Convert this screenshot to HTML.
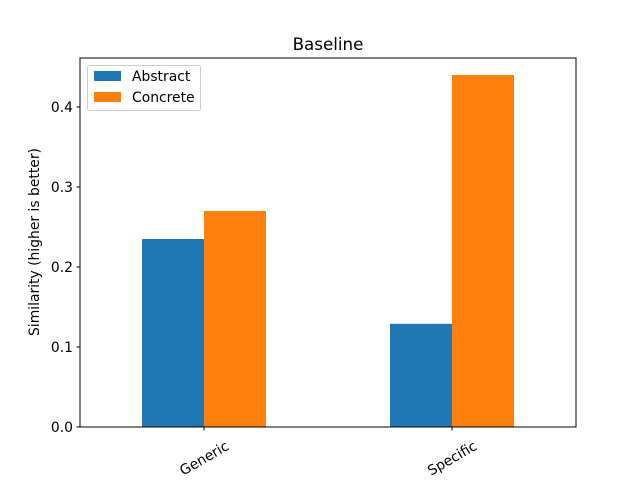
<!DOCTYPE html>
<html><head><meta charset="utf-8"><style>body{margin:0;background:#fff}svg{display:block;font-family:"DejaVu Sans","Liberation Sans",sans-serif}</style></head>
<body>
<svg width="640" height="480" viewBox="0 0 640 480">
<rect width="640" height="480" fill="#fff"/>
<text x="328" y="50" font-size="16.7" text-anchor="middle">Baseline</text>
<g id="bars"></g>
<g id="yticks"></g>
<g id="xticks"></g>
<rect x="80" y="58" width="496" height="369" fill="none" stroke="#000" stroke-width="1"/>
<text transform="translate(39,242) rotate(-90)" font-size="13.9" text-anchor="middle">Similarity (higher is better)</text>
<g>
<rect x="87.5" y="65.5" width="113" height="45" fill="#fff" fill-opacity="0.8" stroke="#ccc" rx="2"/>
<rect x="94" y="71" width="27" height="10" fill="#1f77b4"/>
<text x="132" y="81" font-size="13.9">Abstract</text>
<rect x="94" y="92" width="27" height="10" fill="#ff7f0e"/>
<text x="132" y="102" font-size="13.9">Concrete</text>
</g>
</svg>
<script>
const categories = ["Generic", "Specific"];
const abstractValues = [0.235, 0.129];
const concreteValues = [0.27, 0.44];
const yTickValues = [0.0, 0.1, 0.2, 0.3, 0.4];
const yTickLabels = ["0.0", "0.1", "0.2", "0.3", "0.4"];

const NS = "http://www.w3.org/2000/svg";
const L = 80, R = 576, T = 58, B = 427, YMAX = 0.46125;
const xs = v => L + (v + 0.5) / 2 * (R - L);
const ys = v => B - v / YMAX * (B - T);
const bw = 0.25 * (R - L) / 2;
function mk(tag, attrs, parent) { const e = document.createElementNS(NS, tag); for (const k in attrs) e.setAttribute(k, attrs[k]); parent.appendChild(e); return e; }
const bars = document.getElementById('bars');
const series = [[abstractValues, "#1f77b4", "abstract"], [concreteValues, "#ff7f0e", "concrete"]];
series.forEach(([vals, col, nm], si) => {
  vals.forEach((v, i) => {
    const x = xs(i) + (si - 1) * bw;
    const r = mk('rect', {x: x, y: ys(v), width: bw, height: ys(0) - ys(v), fill: col}, bars);
    
    
  });
});
const yt = document.getElementById('yticks');
yTickValues.forEach((v, i) => {
  const y = ys(v);
  mk('line', {x1: L - 3.5, x2: L, y1: y, y2: y, stroke: '#000'}, yt);
  const t = mk('text', {x: L - 7, y: y + 5, 'font-size': 13.9, 'text-anchor': 'end'}, yt);
  t.textContent = yTickLabels[i];
  
  
});
const xt = document.getElementById('xticks');
categories.forEach((c, i) => {
  const x = xs(i);
  mk('line', {x1: x, x2: x, y1: B, y2: B + 3.5, stroke: '#000'}, xt);
  const t = mk('text', {x: 0, y: 5, 'font-size': 13.9, 'text-anchor': 'middle', transform: `translate(${x},${B + 31}) rotate(-30)`}, xt);
  t.textContent = c;
  
  
});
</script>
</body></html>
